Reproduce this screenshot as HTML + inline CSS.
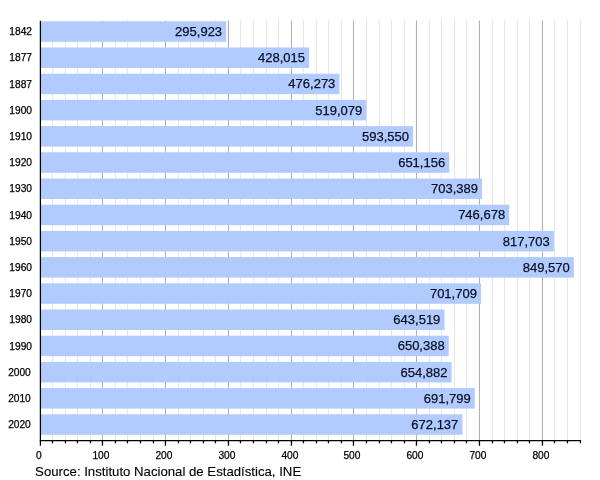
<!DOCTYPE html>
<html><head><meta charset="utf-8"><title>Chart</title>
<style>
html,body{margin:0;padding:0;background:#fff;}
svg{display:block;}
text{font-family:"Liberation Sans",Arial,Helvetica,sans-serif;fill:#000;stroke:#000;stroke-width:0.25px;}
.y{font-size:10.2px;text-anchor:end;}
.v{font-size:13px;text-anchor:end;fill:#0a1024;stroke:#0a1024;}
.x{font-size:10.2px;text-anchor:middle;}
.s{font-size:13.2px;stroke-width:0.12px;}
</style></head><body>
<svg width="600" height="480" viewBox="0 0 600 480">
<rect width="600" height="480" fill="#fff"/>

<line x1="52.45" y1="20" x2="52.45" y2="440" stroke="#e0e0e0" stroke-width="0.8"/>
<line x1="65.45" y1="20" x2="65.45" y2="440" stroke="#e0e0e0" stroke-width="0.8"/>
<line x1="77.45" y1="20" x2="77.45" y2="440" stroke="#e0e0e0" stroke-width="0.8"/>
<line x1="90.45" y1="20" x2="90.45" y2="440" stroke="#e0e0e0" stroke-width="0.8"/>
<line x1="102.45" y1="20.5" x2="102.45" y2="440" stroke="#989898" stroke-width="0.8"/>
<line x1="115.45" y1="20" x2="115.45" y2="440" stroke="#e0e0e0" stroke-width="0.8"/>
<line x1="127.45" y1="20" x2="127.45" y2="440" stroke="#e0e0e0" stroke-width="0.8"/>
<line x1="140.45" y1="20" x2="140.45" y2="440" stroke="#e0e0e0" stroke-width="0.8"/>
<line x1="153.45" y1="20" x2="153.45" y2="440" stroke="#e0e0e0" stroke-width="0.8"/>
<line x1="165.45" y1="20.5" x2="165.45" y2="440" stroke="#989898" stroke-width="0.8"/>
<line x1="178.45" y1="20" x2="178.45" y2="440" stroke="#e0e0e0" stroke-width="0.8"/>
<line x1="190.45" y1="20" x2="190.45" y2="440" stroke="#e0e0e0" stroke-width="0.8"/>
<line x1="203.45" y1="20" x2="203.45" y2="440" stroke="#e0e0e0" stroke-width="0.8"/>
<line x1="215.45" y1="20" x2="215.45" y2="440" stroke="#e0e0e0" stroke-width="0.8"/>
<line x1="228.45" y1="20.5" x2="228.45" y2="440" stroke="#989898" stroke-width="0.8"/>
<line x1="240.45" y1="20" x2="240.45" y2="440" stroke="#e0e0e0" stroke-width="0.8"/>
<line x1="253.45" y1="20" x2="253.45" y2="440" stroke="#e0e0e0" stroke-width="0.8"/>
<line x1="266.45" y1="20" x2="266.45" y2="440" stroke="#e0e0e0" stroke-width="0.8"/>
<line x1="278.45" y1="20" x2="278.45" y2="440" stroke="#e0e0e0" stroke-width="0.8"/>
<line x1="291.45" y1="20.5" x2="291.45" y2="440" stroke="#989898" stroke-width="0.8"/>
<line x1="303.45" y1="20" x2="303.45" y2="440" stroke="#e0e0e0" stroke-width="0.8"/>
<line x1="316.45" y1="20" x2="316.45" y2="440" stroke="#e0e0e0" stroke-width="0.8"/>
<line x1="328.45" y1="20" x2="328.45" y2="440" stroke="#e0e0e0" stroke-width="0.8"/>
<line x1="341.45" y1="20" x2="341.45" y2="440" stroke="#e0e0e0" stroke-width="0.8"/>
<line x1="353.45" y1="20.5" x2="353.45" y2="440" stroke="#989898" stroke-width="0.8"/>
<line x1="366.45" y1="20" x2="366.45" y2="440" stroke="#e0e0e0" stroke-width="0.8"/>
<line x1="379.45" y1="20" x2="379.45" y2="440" stroke="#e0e0e0" stroke-width="0.8"/>
<line x1="391.45" y1="20" x2="391.45" y2="440" stroke="#e0e0e0" stroke-width="0.8"/>
<line x1="404.45" y1="20" x2="404.45" y2="440" stroke="#e0e0e0" stroke-width="0.8"/>
<line x1="416.45" y1="20.5" x2="416.45" y2="440" stroke="#989898" stroke-width="0.8"/>
<line x1="429.45" y1="20" x2="429.45" y2="440" stroke="#e0e0e0" stroke-width="0.8"/>
<line x1="441.45" y1="20" x2="441.45" y2="440" stroke="#e0e0e0" stroke-width="0.8"/>
<line x1="454.45" y1="20" x2="454.45" y2="440" stroke="#e0e0e0" stroke-width="0.8"/>
<line x1="466.45" y1="20" x2="466.45" y2="440" stroke="#e0e0e0" stroke-width="0.8"/>
<line x1="479.45" y1="20.5" x2="479.45" y2="440" stroke="#989898" stroke-width="0.8"/>
<line x1="492.45" y1="20" x2="492.45" y2="440" stroke="#e0e0e0" stroke-width="0.8"/>
<line x1="504.45" y1="20" x2="504.45" y2="440" stroke="#e0e0e0" stroke-width="0.8"/>
<line x1="517.45" y1="20" x2="517.45" y2="440" stroke="#e0e0e0" stroke-width="0.8"/>
<line x1="529.45" y1="20" x2="529.45" y2="440" stroke="#e0e0e0" stroke-width="0.8"/>
<line x1="542.45" y1="20.5" x2="542.45" y2="440" stroke="#989898" stroke-width="0.8"/>
<line x1="554.45" y1="20" x2="554.45" y2="440" stroke="#e0e0e0" stroke-width="0.8"/>
<line x1="567.45" y1="20" x2="567.45" y2="440" stroke="#e0e0e0" stroke-width="0.8"/>
<line x1="580.45" y1="20" x2="580.45" y2="440" stroke="#e0e0e0" stroke-width="0.8"/>
<rect x="40.40" y="21.30" width="185.81" height="20.5" fill="#b2cbff"/>
<rect x="40.40" y="47.50" width="268.75" height="20.5" fill="#b2cbff"/>
<rect x="40.40" y="73.70" width="299.06" height="20.5" fill="#b2cbff"/>
<rect x="40.40" y="99.90" width="325.93" height="20.5" fill="#b2cbff"/>
<rect x="40.40" y="126.10" width="372.69" height="20.5" fill="#b2cbff"/>
<rect x="40.40" y="152.30" width="408.87" height="20.5" fill="#b2cbff"/>
<rect x="40.40" y="178.50" width="441.66" height="20.5" fill="#b2cbff"/>
<rect x="40.40" y="204.70" width="468.84" height="20.5" fill="#b2cbff"/>
<rect x="40.40" y="230.90" width="513.44" height="20.5" fill="#b2cbff"/>
<rect x="40.40" y="257.10" width="533.45" height="20.5" fill="#b2cbff"/>
<rect x="40.40" y="283.30" width="440.61" height="20.5" fill="#b2cbff"/>
<rect x="40.40" y="309.50" width="404.07" height="20.5" fill="#b2cbff"/>
<rect x="40.40" y="335.70" width="408.38" height="20.5" fill="#b2cbff"/>
<rect x="40.40" y="361.90" width="411.20" height="20.5" fill="#b2cbff"/>
<rect x="40.40" y="388.10" width="434.39" height="20.5" fill="#b2cbff"/>
<rect x="40.40" y="414.30" width="422.04" height="20.5" fill="#b2cbff"/>
<text class="y" x="32.0" y="35.10">1842</text>
<text class="v" x="222.11" y="35.90">295,923</text>
<text class="y" x="32.0" y="61.30">1877</text>
<text class="v" x="305.05" y="62.10">428,015</text>
<text class="y" x="32.0" y="87.50">1887</text>
<text class="v" x="335.36" y="88.30">476,273</text>
<text class="y" x="32.0" y="113.70">1900</text>
<text class="v" x="362.23" y="114.50">519,079</text>
<text class="y" x="32.0" y="139.90">1910</text>
<text class="v" x="408.99" y="140.70">593,550</text>
<text class="y" x="32.0" y="166.10">1920</text>
<text class="v" x="445.17" y="166.90">651,156</text>
<text class="y" x="32.0" y="192.30">1930</text>
<text class="v" x="477.96" y="193.10">703,389</text>
<text class="y" x="32.0" y="218.50">1940</text>
<text class="v" x="505.14" y="219.30">746,678</text>
<text class="y" x="32.0" y="244.70">1950</text>
<text class="v" x="549.74" y="245.50">817,703</text>
<text class="y" x="32.0" y="270.90">1960</text>
<text class="v" x="569.75" y="271.70">849,570</text>
<text class="y" x="32.0" y="297.10">1970</text>
<text class="v" x="476.91" y="297.90">701,709</text>
<text class="y" x="32.0" y="323.30">1980</text>
<text class="v" x="440.37" y="324.10">643,519</text>
<text class="y" x="32.0" y="349.50">1990</text>
<text class="v" x="444.68" y="350.30">650,388</text>
<text class="y" x="30.8" y="375.70">2000</text>
<text class="v" x="447.50" y="376.50">654,882</text>
<text class="y" x="30.8" y="401.90">2010</text>
<text class="v" x="470.69" y="402.70">691,799</text>
<text class="y" x="30.8" y="428.10">2020</text>
<text class="v" x="458.34" y="428.90">672,137</text>
<line x1="40.4" y1="20.8" x2="40.4" y2="445.8" stroke="#000" stroke-width="1.25"/>
<line x1="39.8" y1="440.6" x2="581" y2="440.6" stroke="#000" stroke-width="1.3"/>
<text class="x" x="38.95" y="458.8">0</text>
<line x1="52.45" y1="440" x2="52.45" y2="443.3" stroke="#000" stroke-width="1.3"/>
<line x1="65.45" y1="440" x2="65.45" y2="443.3" stroke="#000" stroke-width="1.3"/>
<line x1="77.45" y1="440" x2="77.45" y2="443.3" stroke="#000" stroke-width="1.3"/>
<line x1="90.45" y1="440" x2="90.45" y2="443.3" stroke="#000" stroke-width="1.3"/>
<line x1="102.45" y1="440" x2="102.45" y2="445.8" stroke="#000" stroke-width="1.3"/>
<text class="x" x="100.95" y="458.8">100</text>
<line x1="115.45" y1="440" x2="115.45" y2="443.3" stroke="#000" stroke-width="1.3"/>
<line x1="127.45" y1="440" x2="127.45" y2="443.3" stroke="#000" stroke-width="1.3"/>
<line x1="140.45" y1="440" x2="140.45" y2="443.3" stroke="#000" stroke-width="1.3"/>
<line x1="153.45" y1="440" x2="153.45" y2="443.3" stroke="#000" stroke-width="1.3"/>
<line x1="165.45" y1="440" x2="165.45" y2="445.8" stroke="#000" stroke-width="1.3"/>
<text class="x" x="163.95" y="458.8">200</text>
<line x1="178.45" y1="440" x2="178.45" y2="443.3" stroke="#000" stroke-width="1.3"/>
<line x1="190.45" y1="440" x2="190.45" y2="443.3" stroke="#000" stroke-width="1.3"/>
<line x1="203.45" y1="440" x2="203.45" y2="443.3" stroke="#000" stroke-width="1.3"/>
<line x1="215.45" y1="440" x2="215.45" y2="443.3" stroke="#000" stroke-width="1.3"/>
<line x1="228.45" y1="440" x2="228.45" y2="445.8" stroke="#000" stroke-width="1.3"/>
<text class="x" x="226.95" y="458.8">300</text>
<line x1="240.45" y1="440" x2="240.45" y2="443.3" stroke="#000" stroke-width="1.3"/>
<line x1="253.45" y1="440" x2="253.45" y2="443.3" stroke="#000" stroke-width="1.3"/>
<line x1="266.45" y1="440" x2="266.45" y2="443.3" stroke="#000" stroke-width="1.3"/>
<line x1="278.45" y1="440" x2="278.45" y2="443.3" stroke="#000" stroke-width="1.3"/>
<line x1="291.45" y1="440" x2="291.45" y2="445.8" stroke="#000" stroke-width="1.3"/>
<text class="x" x="289.95" y="458.8">400</text>
<line x1="303.45" y1="440" x2="303.45" y2="443.3" stroke="#000" stroke-width="1.3"/>
<line x1="316.45" y1="440" x2="316.45" y2="443.3" stroke="#000" stroke-width="1.3"/>
<line x1="328.45" y1="440" x2="328.45" y2="443.3" stroke="#000" stroke-width="1.3"/>
<line x1="341.45" y1="440" x2="341.45" y2="443.3" stroke="#000" stroke-width="1.3"/>
<line x1="353.45" y1="440" x2="353.45" y2="445.8" stroke="#000" stroke-width="1.3"/>
<text class="x" x="351.95" y="458.8">500</text>
<line x1="366.45" y1="440" x2="366.45" y2="443.3" stroke="#000" stroke-width="1.3"/>
<line x1="379.45" y1="440" x2="379.45" y2="443.3" stroke="#000" stroke-width="1.3"/>
<line x1="391.45" y1="440" x2="391.45" y2="443.3" stroke="#000" stroke-width="1.3"/>
<line x1="404.45" y1="440" x2="404.45" y2="443.3" stroke="#000" stroke-width="1.3"/>
<line x1="416.45" y1="440" x2="416.45" y2="445.8" stroke="#000" stroke-width="1.3"/>
<text class="x" x="414.95" y="458.8">600</text>
<line x1="429.45" y1="440" x2="429.45" y2="443.3" stroke="#000" stroke-width="1.3"/>
<line x1="441.45" y1="440" x2="441.45" y2="443.3" stroke="#000" stroke-width="1.3"/>
<line x1="454.45" y1="440" x2="454.45" y2="443.3" stroke="#000" stroke-width="1.3"/>
<line x1="466.45" y1="440" x2="466.45" y2="443.3" stroke="#000" stroke-width="1.3"/>
<line x1="479.45" y1="440" x2="479.45" y2="445.8" stroke="#000" stroke-width="1.3"/>
<text class="x" x="477.95" y="458.8">700</text>
<line x1="492.45" y1="440" x2="492.45" y2="443.3" stroke="#000" stroke-width="1.3"/>
<line x1="504.45" y1="440" x2="504.45" y2="443.3" stroke="#000" stroke-width="1.3"/>
<line x1="517.45" y1="440" x2="517.45" y2="443.3" stroke="#000" stroke-width="1.3"/>
<line x1="529.45" y1="440" x2="529.45" y2="443.3" stroke="#000" stroke-width="1.3"/>
<line x1="542.45" y1="440" x2="542.45" y2="445.8" stroke="#000" stroke-width="1.3"/>
<text class="x" x="540.95" y="458.8">800</text>
<line x1="554.45" y1="440" x2="554.45" y2="443.3" stroke="#000" stroke-width="1.3"/>
<line x1="567.45" y1="440" x2="567.45" y2="443.3" stroke="#000" stroke-width="1.3"/>
<line x1="580.45" y1="440" x2="580.45" y2="443.3" stroke="#000" stroke-width="1.3"/>
<text class="s" x="35.1" y="476">Source: Instituto Nacional de Estadística, INE</text>
</svg></body></html>
